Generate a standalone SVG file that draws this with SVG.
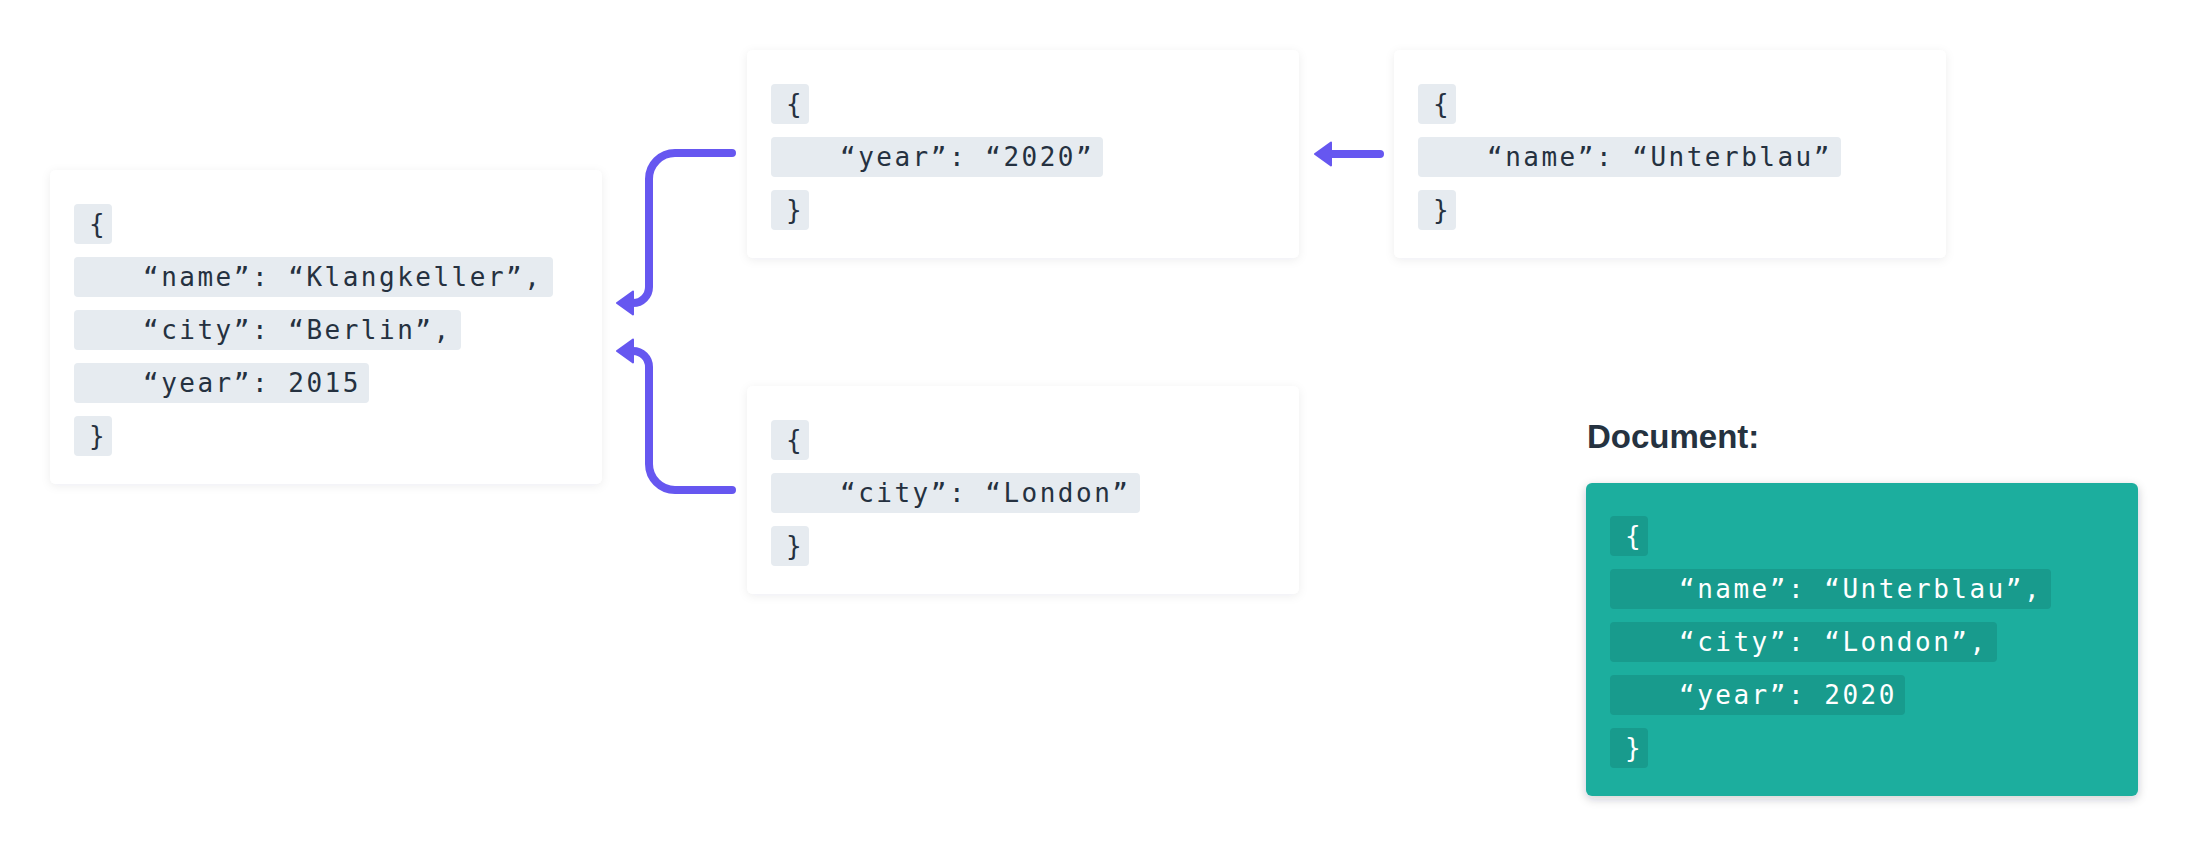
<svg xmlns="http://www.w3.org/2000/svg" width="2188" height="846" viewBox="0 0 2188 846">
<defs>
<filter id="sh" x="-10%" y="-10%" width="120%" height="125%">
<feDropShadow dx="0" dy="2" stdDeviation="5" flood-color="#1c2a3a" flood-opacity="0.07"/>
</filter>
<filter id="sh2" x="-10%" y="-10%" width="120%" height="125%">
<feDropShadow dx="0" dy="3" stdDeviation="5" flood-color="#1c2a3a" flood-opacity="0.22"/>
</filter>
<marker id="ah" viewBox="0 0 19 26" refX="2" refY="13" markerWidth="19" markerHeight="26" markerUnits="userSpaceOnUse" orient="auto">
<path d="M2,1.5 L2,24.5 L18,13 Z" fill="#6657f0" stroke="#6657f0" stroke-width="2" stroke-linejoin="round"/>
</marker>
</defs>
<style>
.card{fill:#ffffff;filter:url(#sh)}
.doc{fill:#1bae9e;filter:url(#sh2)}
.row{fill:#e6ebf0}
.drow{fill:#189b8d}
.t{font-family:"DejaVu Sans Mono","Liberation Mono",monospace;font-size:26px;letter-spacing:2.5px;fill:#253140}
.dt{font-family:"DejaVu Sans Mono","Liberation Mono",monospace;font-size:26px;letter-spacing:2.5px;fill:#ffffff}
.title{font-family:"Liberation Sans",Arial,sans-serif;font-weight:bold;font-size:33px;fill:#253240}
.con{fill:none;stroke:#6657f0;stroke-width:8;stroke-linecap:round;stroke-linejoin:round}
</style>
<rect width="2188" height="846" fill="#ffffff"/>

<g id="base">
<rect class="card" x="50" y="170" width="552" height="314" rx="6"/>
<rect class="row" x="74" y="204" width="38" height="40" rx="4"/>
<text class="t" x="89" y="233">{</text>
<rect class="row" x="74" y="257" width="479" height="40" rx="4"/>
<text class="t" x="143" y="286">“name”: “Klangkeller”,</text>
<rect class="row" x="74" y="310" width="387" height="40" rx="4"/>
<text class="t" x="143" y="339">“city”: “Berlin”,</text>
<rect class="row" x="74" y="363" width="295" height="40" rx="4"/>
<text class="t" x="143" y="392">“year”: 2015</text>
<rect class="row" x="74" y="416" width="38" height="40" rx="4"/>
<text class="t" x="89" y="445">}</text>
</g>

<g id="patch-year">
<rect class="card" x="747" y="50" width="552" height="208" rx="6"/>
<rect class="row" x="771" y="84" width="38" height="40" rx="4"/>
<text class="t" x="786" y="113">{</text>
<rect class="row" x="771" y="137" width="332" height="40" rx="4"/>
<text class="t" x="840" y="166">“year”: “2020”</text>
<rect class="row" x="771" y="190" width="38" height="40" rx="4"/>
<text class="t" x="786" y="219">}</text>
</g>

<g id="patch-name">
<rect class="card" x="1394" y="50" width="552" height="208" rx="6"/>
<rect class="row" x="1418" y="84" width="38" height="40" rx="4"/>
<text class="t" x="1433" y="113">{</text>
<rect class="row" x="1418" y="137" width="423" height="40" rx="4"/>
<text class="t" x="1487" y="166">“name”: “Unterblau”</text>
<rect class="row" x="1418" y="190" width="38" height="40" rx="4"/>
<text class="t" x="1433" y="219">}</text>
</g>

<g id="patch-city">
<rect class="card" x="747" y="386" width="552" height="208" rx="6"/>
<rect class="row" x="771" y="420" width="38" height="40" rx="4"/>
<text class="t" x="786" y="449">{</text>
<rect class="row" x="771" y="473" width="369" height="40" rx="4"/>
<text class="t" x="840" y="502">“city”: “London”</text>
<rect class="row" x="771" y="526" width="38" height="40" rx="4"/>
<text class="t" x="786" y="555">}</text>
</g>

<g id="document">
<text class="title" x="1587" y="448">Document:</text>
<rect class="doc" x="1586" y="483" width="552" height="313" rx="6"/>
<rect class="drow" x="1610" y="516" width="38" height="40" rx="4"/>
<text class="dt" x="1625" y="545">{</text>
<rect class="drow" x="1610" y="569" width="441" height="40" rx="4"/>
<text class="dt" x="1679" y="598">“name”: “Unterblau”,</text>
<rect class="drow" x="1610" y="622" width="387" height="40" rx="4"/>
<text class="dt" x="1679" y="651">“city”: “London”,</text>
<rect class="drow" x="1610" y="675" width="295" height="40" rx="4"/>
<text class="dt" x="1679" y="704">“year”: 2020</text>
<rect class="drow" x="1610" y="728" width="38" height="40" rx="4"/>
<text class="dt" x="1625" y="757">}</text>
</g>

<g id="connectors">
<path class="con" d="M732,153 H675 A26,26 0 0 0 649,179 V287 A16,16 0 0 1 633,303" marker-end="url(#ah)"/>
<path class="con" d="M732,490 H675 A26,26 0 0 1 649,464 V367 A16,16 0 0 0 633,351" marker-end="url(#ah)"/>
<path class="con" d="M1380,154 H1331" marker-end="url(#ah)"/>
</g>
</svg>
